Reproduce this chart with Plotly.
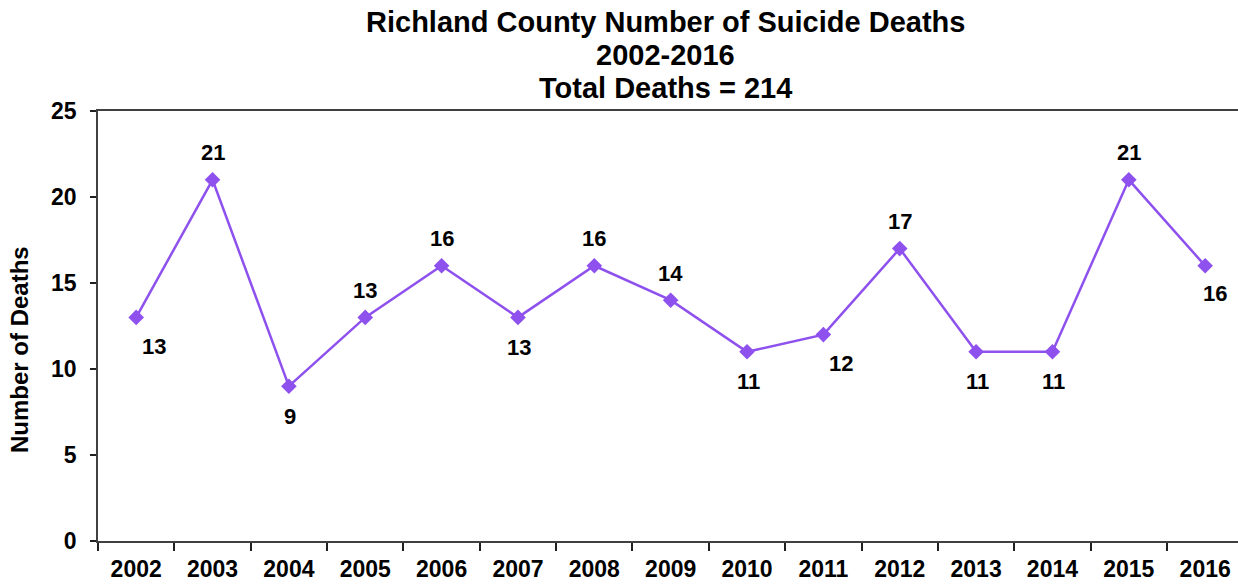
import plotly.graph_objects as go

years = ["2002", "2003", "2004", "2005", "2006", "2007", "2008", "2009",
         "2010", "2011", "2012", "2013", "2014", "2015", "2016"]
deaths = [13, 21, 9, 13, 16, 13, 16, 14, 11, 12, 17, 11, 11, 21, 16]
label_pos = ["br", "t", "b", "t", "t", "b", "t", "t", "b", "br", "t", "b", "b", "t", "bm"]
title_lines = ["Richland County Number of Suicide Deaths", "2002-2016", "Total Deaths = 214"]
y_title = "Number of Deaths"

color = "#8E51EE"
font_family = "Arial, 'Liberation Sans', sans-serif"

W, H = 1238, 585
ML, MT, MB = 98, 111, 44
plot_h = H - MT - MB
plot_w = W - ML

fig = go.Figure()
fig.add_trace(go.Scatter(
    x=years, y=deaths, mode="lines+markers",
    line=dict(color=color, width=2.5),
    marker=dict(symbol="diamond", size=12, color=color),
    hoverinfo="x+y", showlegend=False,
))

shift = {"t": (0, 27), "b": (1, -30), "bm": (10, -28), "br": (18, -29)}
for i, (v, p) in enumerate(zip(deaths, label_pos)):
    dx, dy = shift[p]
    fig.add_annotation(x=i, y=v, text=str(v), showarrow=False,
                       xshift=dx, yshift=dy,
                       font=dict(family=font_family, size=22, color="black", weight="bold"))

# title lines (centres at 22, 55, 88 px from top)
for line, fy in zip(title_lines, [22, 55, 88]):
    fig.add_annotation(x=(665 - ML) / plot_w, xref="paper", xanchor="center",
                       y=(H - MB - fy) / plot_h, yref="paper", yanchor="middle",
                       text=line, showarrow=False,
                       font=dict(family=font_family, size=29, color="black", weight="bold"))

# y-axis title
fig.add_annotation(x=(19 - ML) / plot_w, xref="paper", xanchor="center",
                   y=(H - MB - 350) / plot_h, yref="paper", yanchor="middle",
                   text=y_title, textangle=-90, showarrow=False,
                   font=dict(family=font_family, size=24, color="black", weight="bold"))

fig.update_layout(
    width=W, height=H,
    paper_bgcolor="white", plot_bgcolor="white",
    margin=dict(l=ML, r=0, t=MT, b=MB, pad=0),
    font=dict(family=font_family, color="black"),
    xaxis=dict(
        type="category", categoryorder="array", categoryarray=years,
        range=[-0.5, 14.43],
        showline=True, linecolor="#404040", linewidth=2, mirror=True,
        ticks="outside", tickson="boundaries", ticklen=8, tickcolor="#202020", tickwidth=1.5,
        showgrid=False, zeroline=False,
        tickfont=dict(family=font_family, size=23, color="black", weight="bold"),
        ticklabelstandoff=6,
    ),
    yaxis=dict(
        range=[0, 25], tickvals=[0, 5, 10, 15, 20, 25],
        showline=True, linecolor="#404040", linewidth=1.5,
        ticks="outside", ticklen=6, tickcolor="#202020", tickwidth=1.5,
        showgrid=False, zeroline=False,
        tickfont=dict(family=font_family, size=23, color="black", weight="bold"),
        ticklabelstandoff=9,
    ),
)

fig.write_html("out.html", config={"displayModeBar": False},
               post_script="document.body.style.margin='0';document.body.style.overflow='hidden';")
